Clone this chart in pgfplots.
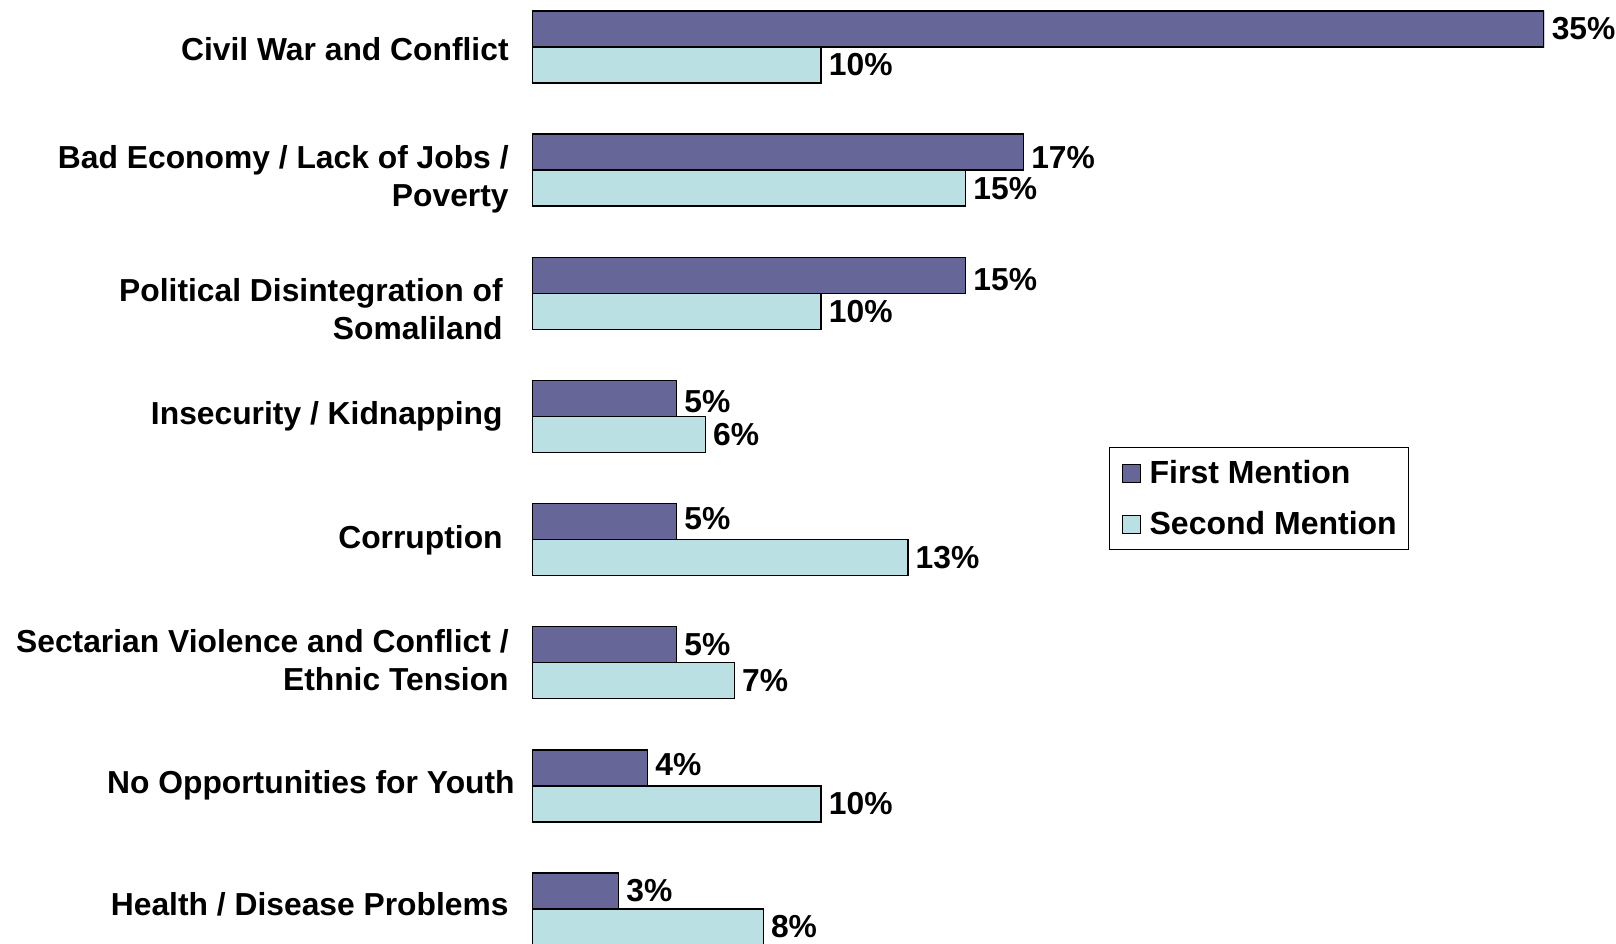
\documentclass[border=0pt]{standalone}
\usepackage{pgfplots}
\pgfplotsset{compat=1.18}
\usepackage{fontspec}
\setmainfont{Liberation Sans}
\definecolor{firstc}{RGB}{102,102,153}
\definecolor{secondc}{RGB}{187,224,227}
\newcommand{\rl}[2]{\raisebox{#1}[\height][\depth]{#2}}
\newcommand{\two}[2]{\begin{tabular}{@{}r@{}}#1\\#2\end{tabular}}
\begin{document}
\begin{tikzpicture}
\useasboundingbox (0,0) rectangle (808pt,471.5pt);
\begin{axis}[
  at={(266pt,471.5pt)}, anchor=north west,
  scale only axis, width=506pt, height=471.5pt,
  xbar, bar width=18pt,
  xmin=0, xmax=35,
  ymin=-0.3817, ymax=7.2763, y dir=reverse,
  axis line style={draw=none},
  tick style={draw=none}, major tick length=0pt,
  xtick=\empty,
  ytick={0,1,2,3,4,5,6,7},
  yticklabels={
    {\rl{1.5pt}{Civil War and Conflict}},
    {\rl{-2.3pt}{\two{Bad Economy / Lack of Jobs /}{Poverty}}},
    {\rl{-7.5pt}{\two{Political Disintegration of\rule{3pt}{0pt}}{Somaliland\rule{3pt}{0pt}}}},
    {\rl{2.3pt}{Insecurity / Kidnapping\rule{3pt}{0pt}}},
    {\rl{2pt}{Corruption\rule{3pt}{0pt}}},
    {\rl{2pt}{\two{Sectarian Violence and Conflict /}{Ethnic Tension}}},
    {\rl{3pt}{No Opportunities for Youth\kern-3pt}},
    {\rl{5pt}{Health / Disease Problems}}},
  yticklabel style={font=\fontsize{15.9}{19}\selectfont\bfseries, inner sep=0pt, xshift=-11.5pt, yshift=-2.5pt},
  /pgf/number format/assume math mode=true,
  point meta=explicit symbolic,
  nodes near coords={\raisebox{\pgfplotspointmeta pt}[\height][\depth]{\pgfmathprintnumber{\pgfkeysvalueof{/data point/x}}\%}},
  nodes near coords style={font=\fontsize{15.9}{19}\selectfont\bfseries, anchor=west, inner sep=0pt, xshift=3.5pt},
  legend style={at={(0.5702,0.5260)}, anchor=north west, draw=black, line width=0.6pt,
    font=\fontsize{16}{19}\selectfont\bfseries, inner xsep=6pt, inner ysep=4.2pt, row sep=8.5pt,
    cells={anchor=west}, nodes={inner xsep=3.5pt}},
  legend image code/.code={\draw[#1, line width=0.5pt] (0pt,-4.5pt) rectangle (9pt,4.5pt);},
  clip=true,
]
\addplot[fill=firstc, draw=black, line width=0.75pt, bar shift=9pt] coordinates {
  (35,0) [0] (17,1) [-2.5] (15,2) [-2] (5,3) [-1.5] (5,4) [1.5] (5,5) [0] (4,6) [1.5] (3,7) [0]};
\addplot[fill=secondc, draw=black, line width=0.75pt, bar shift=-9pt] coordinates {
  (10,0) [0] (15,1) [0] (10,2) [0] (6,3) [0] (13,4) [0] (7,5) [0] (10,6) [0] (8,7) [0]};
\legend{\kern1pt First Mention\kern-3.5pt, \kern1pt Second Mention\kern-3.5pt}
\end{axis}
\end{tikzpicture}
\end{document}
